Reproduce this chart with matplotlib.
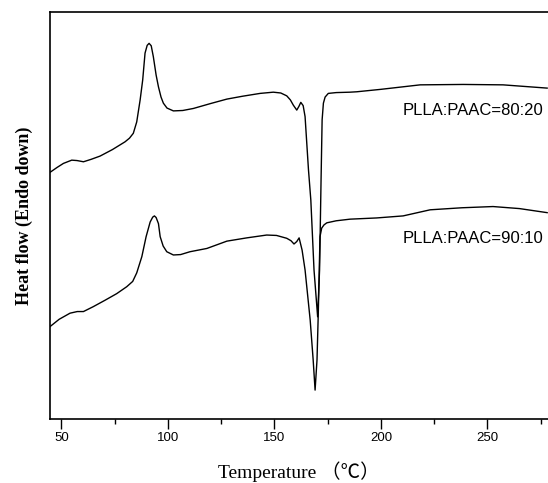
import numpy as np
import matplotlib

matplotlib.use("Agg")
import matplotlib.pyplot as plt
from matplotlib.ticker import MultipleLocator

# DSC heating scans (temperature in C, heat flow in arbitrary units)
temp_80_20 = [44.7, 48.0, 51.0, 54.9, 57.4, 60.4, 64.0, 68.2, 74.0, 79.9, 82.0, 83.8,
              85.4, 87.0, 88.2, 89.3, 90.3, 91.2, 92.2, 93.2, 94.5, 95.6, 96.8,
              97.9, 99.6, 102.6, 107.0, 112.0, 120.0, 127.7, 135.0, 143.3, 149.5,
              153.0, 155.8, 157.5, 158.9, 160.5, 161.5, 162.4, 163.5, 164.4, 166.0,
              167.1, 168.6, 170.3, 171.2, 171.9, 172.4, 173.0, 173.8, 175.3, 179.0,
              185.5, 188.7, 200.0, 218.4, 238.6, 257.3, 278.0]
flow_80_20 = [6.06, 6.18, 6.28, 6.36, 6.35, 6.32, 6.38, 6.46, 6.62, 6.81, 6.90, 7.02,
              7.30, 7.84, 8.33, 8.99, 9.18, 9.23, 9.17, 8.90, 8.45, 8.16, 7.91,
              7.76, 7.64, 7.57, 7.58, 7.63, 7.75, 7.86, 7.93, 8.00, 8.03,
              8.01, 7.94, 7.84, 7.71, 7.59, 7.68, 7.78, 7.70, 7.43, 6.12,
              5.38, 3.66, 2.51, 3.66, 5.87, 7.35, 7.76, 7.91, 8.00, 8.02,
              8.03, 8.04, 8.10, 8.21, 8.22, 8.21, 8.13]

temp_90_10 = [44.7, 49.0, 54.1, 57.5, 60.4, 65.0, 70.6, 76.0, 80.7, 83.5, 85.4, 87.8,
              89.8, 91.7, 92.9, 93.7, 94.5, 95.6, 96.4, 97.8, 99.5, 102.6, 106.0,
              110.4, 118.3, 127.7, 137.0, 146.4, 151.0, 155.8, 157.8, 159.2, 160.5,
              161.6, 163.0, 164.4, 166.8, 168.2, 169.1, 170.0, 170.6, 171.4, 172.2,
              173.3, 174.6, 179.0, 185.5, 198.0, 210.4, 223.1, 238.0, 252.6, 265.0,
              278.0]
flow_90_10 = [2.27, 2.45, 2.60, 2.64, 2.64, 2.76, 2.92, 3.08, 3.25, 3.38, 3.59, 3.99,
              4.48, 4.84, 4.96, 4.99, 4.95, 4.80, 4.48, 4.25, 4.11, 4.03, 4.04,
              4.11, 4.19, 4.37, 4.45, 4.52, 4.51, 4.44, 4.38, 4.30, 4.36,
              4.45, 4.15, 3.66, 2.43, 1.45, 0.71, 1.45, 2.60, 4.48, 4.69,
              4.77, 4.82, 4.87, 4.91, 4.94, 4.99, 5.14, 5.19, 5.22, 5.17,
              5.07]

labels = ["PLLA:PAAC=80:20", "PLLA:PAAC=90:10"]

fig = plt.figure(figsize=(5.48, 4.83), dpi=100)
ax = fig.add_axes([50 / 548, 64 / 483, 1 - 50 / 548, 407 / 483])

ax.plot(temp_80_20, flow_80_20, color="black", linewidth=1.0)
ax.plot(temp_90_10, flow_90_10, color="black", linewidth=1.0)

ax.text(276.0, 7.57, labels[0], ha="right", va="center", fontsize=12,
        family="Liberation Sans")
ax.text(276.0, 4.44, labels[1], ha="right", va="center", fontsize=12,
        family="Liberation Sans")

ax.set_xlim(44.7, 278.4)
ax.set_ylim(0, 10.0)
ax.xaxis.set_major_locator(MultipleLocator(50))
ax.xaxis.set_minor_locator(MultipleLocator(25))
ax.tick_params(axis="x", which="major", direction="out", length=7, width=1.0,
               pad=2.5, labelsize=9.5)
ax.tick_params(axis="x", which="minor", direction="out", length=3.5, width=1.0)
for lab in ax.get_xticklabels():
    lab.set_family("Liberation Sans")
ax.set_yticks([])

ax.spines["right"].set_visible(False)
for side in ["left", "bottom", "top"]:
    ax.spines[side].set_linewidth(1.2)

ax.set_xlabel("Temperature （℃）", fontsize=14,
              family=["Liberation Serif", "Noto Sans CJK SC"], labelpad=12)
ax.set_ylabel("Heat flow (Endo down)", fontsize=13, fontweight="bold",
              family="Liberation Serif", labelpad=12)

fig.savefig("out.png", dpi=100)
